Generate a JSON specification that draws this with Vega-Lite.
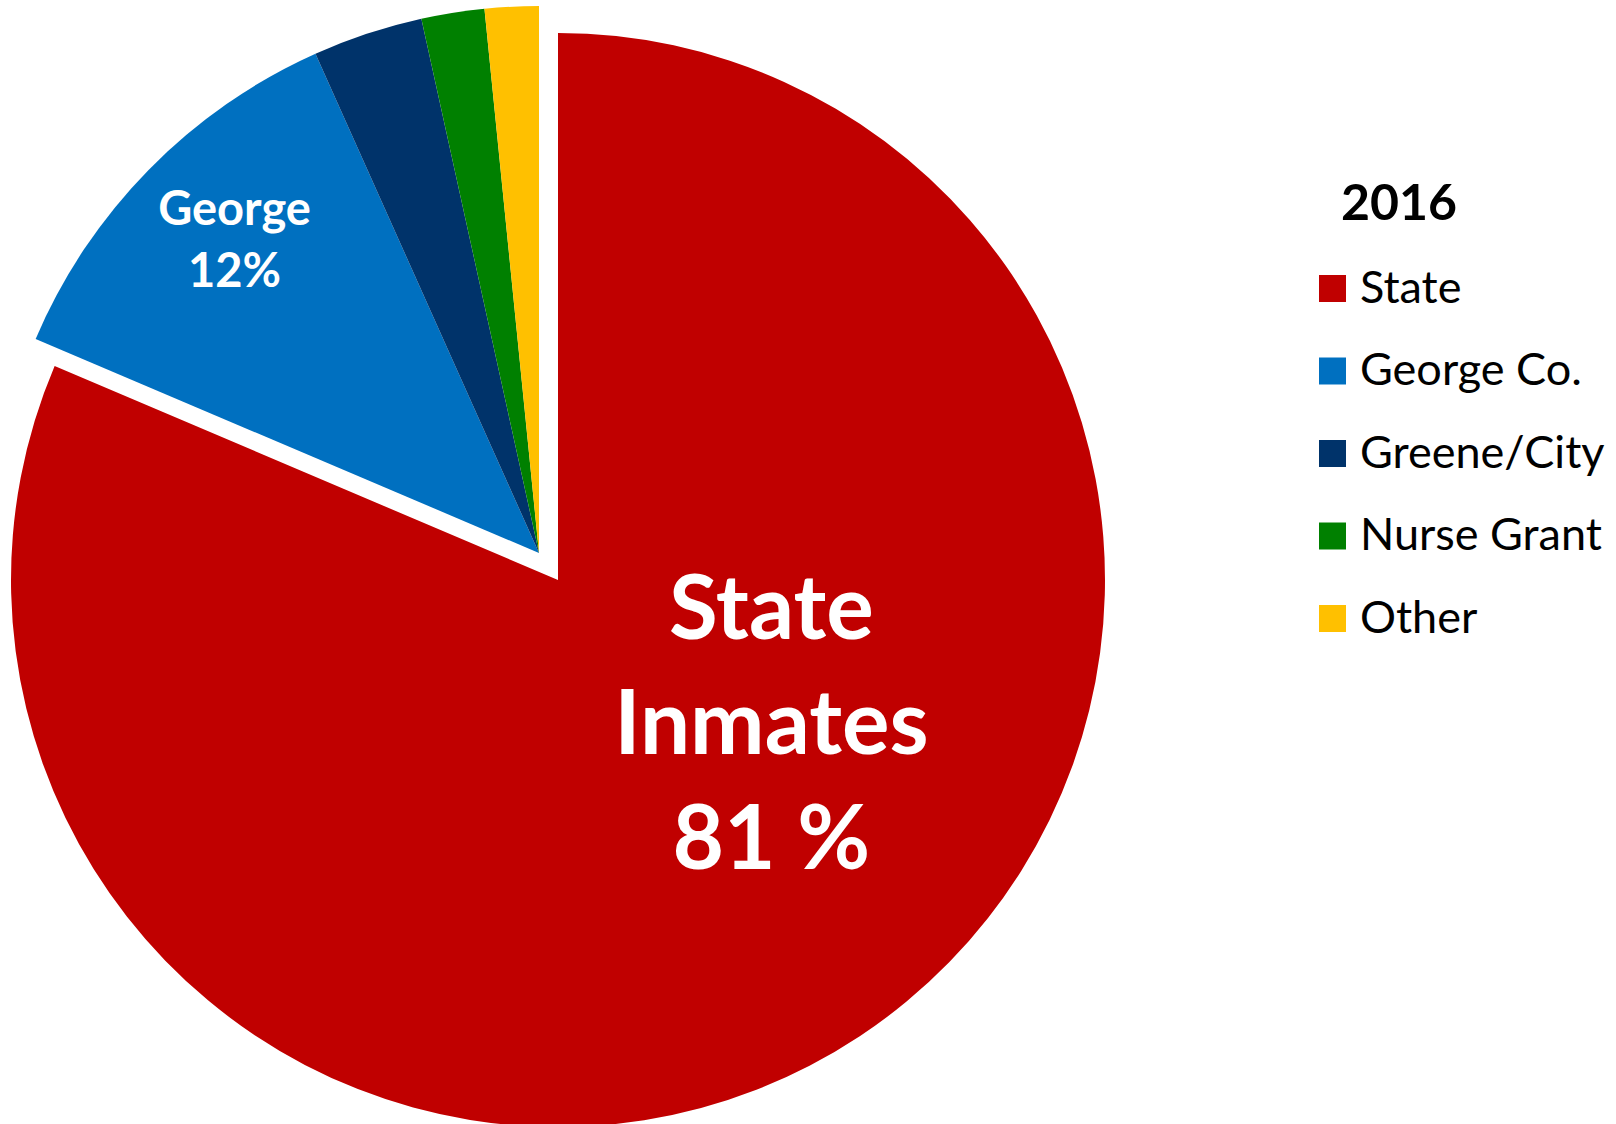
{
  "$schema": "https://vega.github.io/schema/vega-lite/v6.json",
  "width": 1078,
  "height": 1106,
  "padding": 0,
  "background": "white",
  "config": {"view": {"stroke": null}},
  "data": {
    "values": [
      {"category": "State", "value": 81.4, "label": "State\nInmates\n81 %"},
      {"category": "George Co.", "value": 11.9, "label": "George\n12%"},
      {"category": "Greene/City", "value": 3.25, "label": ""},
      {"category": "Nurse Grant", "value": 1.86, "label": ""},
      {"category": "Other", "value": 1.59, "label": ""}
    ]
  },
  "transform": [
    {"stack": "value", "groupby": [], "as": ["v0", "v1"]}
  ],
  "layer": [
    {
      "transform": [{"filter": "datum.category !== 'State'"}],
      "mark": {"type": "arc", "outerRadius": 547},
      "encoding": {
        "theta": {"field": "v0", "type": "quantitative", "scale": {"domain": [0, 100], "zero": true}},
        "theta2": {"field": "v1"},
        "color": {
          "field": "category",
          "type": "nominal",
          "scale": {
            "domain": ["State", "George Co.", "Greene/City", "Nurse Grant", "Other"],
            "range": ["#C00000", "#0070C0", "#00336A", "#008000", "#FFC000"]
          },
          "legend": {
            "title": "2016",
            "orient": "none",
            "legendX": 1310,
            "legendY": 180,
            "padding": 0,
            "titleFont": "Lato",
            "titleFontSize": 50,
            "titleFontWeight": "bold",
            "titleColor": "black",
            "titleAnchor": "middle",
            "titleAlign": "right",
            "titlePadding": 36,
            "labelFont": "Lato",
            "labelFontSize": 45,
            "labelColor": "black",
            "labelOffset": 5,
            "symbolType": "square",
            "symbolSize": 729,
            "symbolStrokeWidth": 0,
            "symbolOpacity": 1,
            "rowPadding": 36.5,
            "labelLimit": 400
          }
        }
      }
    },
    {
      "transform": [{"filter": "datum.category === 'State'"}],
      "mark": {"type": "arc", "outerRadius": 547, "xOffset": 19, "yOffset": 27},
      "encoding": {
        "theta": {"field": "v0", "type": "quantitative"},
        "theta2": {"field": "v1"},
        "color": {"field": "category", "type": "nominal"}
      }
    },
    {
      "mark": {
        "type": "text",
        "radius": 240,
        "xOffset": 100,
        "yOffset": -141,
        "font": "Lato",
        "fontWeight": "bold",
        "fontSize": 89,
        "lineHeight": 115,
        "lineBreak": "\n",
        "color": "white",
        "align": "center",
        "baseline": "middle"
      },
      "encoding": {
        "theta": {"field": "value", "type": "quantitative", "stack": true},
        "order": {"field": "v0", "type": "quantitative"},
        "text": {"condition": {"test": "datum.category === 'State'", "field": "label"}, "value": ""}
      }
    },
    {
      "mark": {
        "type": "text",
        "radius": 435,
        "xOffset": 6,
        "yOffset": -37,
        "font": "Lato",
        "fontWeight": "bold",
        "fontSize": 47,
        "lineHeight": 62,
        "lineBreak": "\n",
        "color": "white",
        "align": "center",
        "baseline": "middle"
      },
      "encoding": {
        "theta": {"field": "value", "type": "quantitative", "stack": true},
        "order": {"field": "v0", "type": "quantitative"},
        "text": {"condition": {"test": "datum.category === 'George Co.'", "field": "label"}, "value": ""}
      }
    }
  ]
}
